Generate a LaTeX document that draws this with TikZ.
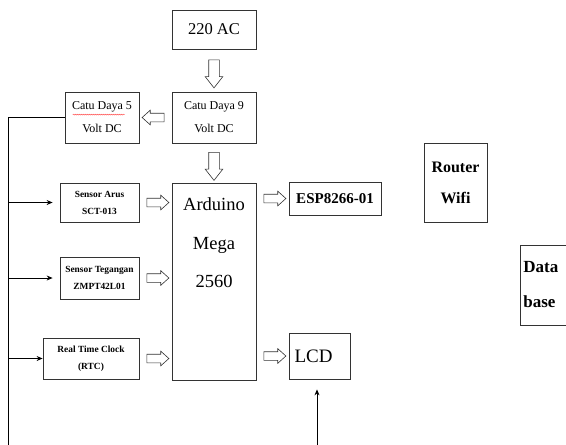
\documentclass[tikz,border=0pt]{standalone}
\usepackage{fontspec}
\setmainfont{Liberation Serif}
\usepackage{tikz}
\usetikzlibrary{shapes.arrows, arrows.meta, positioning, calc, decorations.pathmorphing}
\tikzstyle{arrow} = [line width=0.8pt, -{Stealth[length=6pt, width=5pt]}]

\begin{document}
\begin{tikzpicture}[
	x=1pt, y=-1pt,
	box/.style={draw=black!80, line width=0.8pt, align=center, inner sep=0pt},
	sensorbox/.style={box, font=\fontsize{9.4}{17}\selectfont\bfseries},
	powerbox/.style={box, minimum height=51pt, font=\fontsize{12}{23}\selectfont},
	hollow/.style={single arrow, draw=black!80, line width=0.6pt, fill=white, inner xsep=0pt, inner ysep=4pt,
		minimum height=22pt, single arrow head extend=3pt,
		single arrow tip angle=84, sloped, allow upside down},
	bighollow/.style={hollow, minimum height=28pt, inner ysep=5pt, single arrow head extend=3.5pt,
		single arrow tip angle=76},
	bus/.style={line width=0.8pt}
]
\useasboundingbox (0,0) rectangle (566,445);

% power supply
\node[box, minimum width=84pt, minimum height=39pt, font=\fontsize{16.5}{20}\selectfont] (ac) at (214,29.5) {220 AC};
\node[powerbox, minimum width=84pt] (cd9) at (214,117.5) {Catu Daya 9\\Volt DC};
\node[powerbox, minimum width=74pt] (cd5) at (102,117.5) {Catu Daya 5\\Volt DC};
\draw[red!80, line width=0.3pt, decorate, decoration={snake, amplitude=0.5pt, segment length=2pt}]
	($(cd5.north west)+(8,23)$) -- ++(52,0);

% controller
\node[box, minimum width=84pt, minimum height=197pt,
	label={[anchor=north, yshift=-15pt, inner sep=0pt, align=center, font=\fontsize{18.5}{38.5}\selectfont]north:Arduino\\Mega\\2560}] (ard) at (214,281.5) {};

% sensors
\node[sensorbox, minimum width=79pt, minimum height=39pt] (arus) at (99.5,202.5) {Sensor Arus\\SCT-013};
\node[sensorbox, minimum width=79pt, minimum height=42pt] (teg) at (99.5,278) {Sensor Tegangan\\ZMPT42L01};
\node[sensorbox, minimum width=96pt, minimum height=41pt] (rtc) at (91,358.5) {Real Time Clock\\(RTC)};

% outputs
\node[box, minimum width=92pt, minimum height=33pt, font=\fontsize{15}{18}\selectfont\bfseries] (esp) at (335,198.5) {ESP8266-01};
\node[box, text width=50pt, align=left, inner xsep=5.5pt, minimum height=46pt, font=\fontsize{19}{22}\selectfont] (lcd) at (319.5,356) {LCD};
\node[box, minimum width=63pt, minimum height=79pt, font=\fontsize{16}{31}\selectfont\bfseries] (router) at (455.5,182.5) {Router\\Wifi};
\node[box, anchor=west, text width=54pt, align=left, inner xsep=3pt, minimum height=80pt, font=\fontsize{17}{35}\selectfont\bfseries] (db) at (520,285) {Data\\base};

% hollow arrows
\path (ac) -- node[bighollow] {} (cd9);
\path (cd9) -- node[hollow] {} (cd5);
\path (cd9) -- node[bighollow] {} (ard);
\path (arus.east) -- node[hollow] {} (arus.east -| ard.west);
\path (teg.east) -- node[hollow] {} (teg.east -| ard.west);
\path (rtc.east) -- node[hollow] {} (rtc.east -| ard.west);
\path (ard.east |- esp.west) -- node[hollow] {} (esp.west);
\path (ard.east |- lcd.west) -- node[hollow] {} (lcd.west);

% 5 V bus
\coordinate (busbot) at (8,445);
\coordinate (lcdbot) at (317,445);
\draw[bus] (cd5.west) -| (busbot);
\draw[arrow, shorten >=7pt] (arus.west -| busbot) -- (arus.west);
\draw[arrow, shorten >=7pt] (teg.west -| busbot) -- (teg.west);
\draw[arrow] (rtc.west -| busbot) -- (rtc.west);
\draw[arrow, shorten >=10pt] (lcdbot) -- (lcdbot |- lcd.south);

\end{tikzpicture}
\end{document}
